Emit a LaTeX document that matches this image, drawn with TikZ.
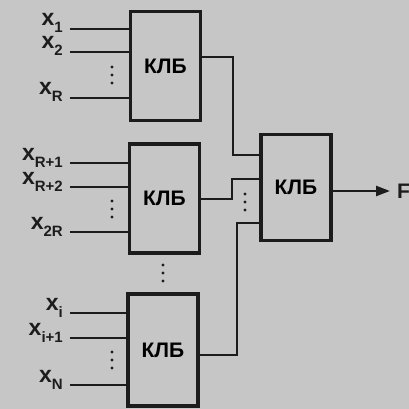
\documentclass[tikz,border=0pt]{standalone}
\usepackage{fontspec}
\setmainfont{Liberation Sans}
\usepackage{tikz}
\usetikzlibrary{arrows.meta,positioning}
\definecolor{scan}{HTML}{C6C6C6}
\definecolor{ink}{HTML}{1C1C1C}
\newcommand{\xin}[1]{{\fontsize{23}{25}\selectfont x}\raisebox{-7pt}{\fontsize{15}{15}\selectfont #1}}

\begin{document}
\begin{tikzpicture}[
  x=1pt,y=-1pt,
  font=\fontsize{21}{23}\selectfont\bfseries,
  klb/.style={draw=ink,line width=3.4pt,minimum width=70pt,minimum height=109pt,inner sep=0pt},
  wire/.style={draw=ink,line width=2.4pt},
  arr/.style={wire,-{Triangle[length=14pt,width=10pt]}},
  lbl/.style={anchor=base east,text=ink,inner sep=0pt,yshift=3pt},
  dot/.style={fill=ink,circle,inner sep=0pt,minimum size=3.4pt}
]
% background
\fill[scan] (0,0) rectangle (409,409);
\useasboundingbox (0,0) rectangle (409,409);
% blocks
\node[klb] (b1) at (165.5,66) {КЛБ};
\node[klb] (b2) at (164.5,198.5) {КЛБ};
\node[klb,minimum height=112pt] (b3) at (163,350) {КЛБ};
\node[klb,minimum height=106pt] (big) at (296,187.5) {КЛБ};
% inputs of block 1
\coordinate (i11) at (70,29);
\coordinate (i12) at (70,52);
\coordinate (i1r) at (70,98);
\node[lbl] at ([xshift=-7pt]i11) {\xin{1}};
\node[lbl] at ([xshift=-7pt]i12) {\xin{2}};
\node[lbl] at ([xshift=-7pt]i1r) {\xin{R}};
\draw[wire] (i11) -- (i11 -| b1.west);
\draw[wire] (i12) -- (i12 -| b1.west);
\draw[wire] (i1r) -- (i1r -| b1.west);
% inputs of block 2
\coordinate (i21) at (70,163);
\coordinate (i22) at (70,187);
\coordinate (i2r) at (70,232);
\node[lbl] at ([xshift=-7pt]i21) {\xin{R+1}};
\node[lbl] at ([xshift=-7pt]i22) {\xin{R+2}};
\node[lbl] at ([xshift=-7pt]i2r) {\xin{2R}};
\draw[wire] (i21) -- (i21 -| b2.west);
\draw[wire] (i22) -- (i22 -| b2.west);
\draw[wire] (i2r) -- (i2r -| b2.west);
% inputs of block 3
\coordinate (i31) at (70,313);
\coordinate (i32) at (70,338);
\coordinate (i3n) at (70,385);
\node[lbl] at ([xshift=-7pt]i31) {\xin{i}};
\node[lbl] at ([xshift=-7pt]i32) {\xin{i+1}};
\node[lbl] at ([xshift=-7pt]i3n) {\xin{N}};
\draw[wire] (i31) -- (i31 -| b3.west);
\draw[wire] (i32) -- (i32 -| b3.west);
\draw[wire] (i3n) -- (i3n -| b3.west);
% block outputs to the last block
\coordinate (o1) at (202,57);
\coordinate (o2) at (201,199);
\coordinate (o3) at (199,355);
\coordinate (k1) at (260,155);
\coordinate (k2) at (260,179);
\coordinate (k3) at (260,223);
\draw[wire] (o1) -- (233,57) |- (k1);
\draw[wire] (o2) -- (232,199) |- (k2);
\draw[wire] (o3) -- (237,355) |- (k3);
% vertical dots
\foreach \px/\py in {112/75, 112/209, 112/360, 163/273, 245/202}
  \foreach \d in {-8,0,8}
    \node[dot] at (\px,\py+\d) {};
% result
\coordinate (f) at (390,191);
\draw[arr] (big.east |- f) -- (f);
\node[anchor=west,text=ink,inner sep=0pt] (fout) at ([xshift=7pt]f) {F};
\end{tikzpicture}
\end{document}
